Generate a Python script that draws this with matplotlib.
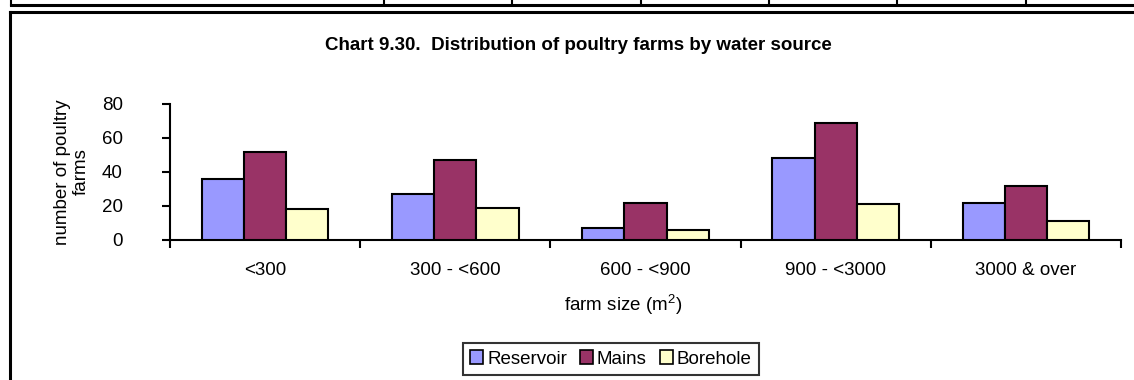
import matplotlib
matplotlib.use("Agg")
import matplotlib.pyplot as plt
from matplotlib.lines import Line2D
import numpy as np


# Farm size groups along the x axis.
categories = ["<300", "300 - <600", "600 - <900", "900 - <3000", "3000 & over"]

# Number of poultry farms for each water source.
reservoir = [36, 27, 7, 48, 22]
mains = [52, 47, 22, 69, 32]
borehole = [18, 19, 6, 21, 11]

# Series names and fill colours.
series_names = ["Reservoir", "Mains", "Borehole"]
series_colors = ["#9999FF", "#993366", "#FFFFCC"]

# Arial-like font everywhere.
plt.rcParams['font.family'] = ['Liberation Sans', 'DejaVu Sans']
plt.rcParams['mathtext.default'] = 'regular'

# Creates the figure and the plot area.
fig = plt.figure(figsize=(11.34, 3.80), dpi=100)
W, H = 1134, 380
ax = fig.add_axes([170 / W, 1 - 240 / H, (1121 - 170) / W, (240 - 104) / H])

# Draws the three bars of every group.
bar_w = 0.222
centers = np.arange(len(categories)) + 0.5
for k, values in enumerate([reservoir, mains, borehole]):
    ax.bar(centers + (k - 1) * bar_w, values, width=bar_w,
           color=series_colors[k], edgecolor="black", linewidth=1.5,
           label=series_names[k], zorder=3)

# Y axis: 0 to 80 in steps of 20, ticks pointing outwards.
ax.set_ylim(0, 80)
ax.set_yticks([0, 20, 40, 60, 80])
ax.tick_params(axis="y", direction="out", length=6, width=1.5, pad=28, labelsize=13.5)

# X axis: ticks at the group edges, labels in the middle of each group.
ax.set_xlim(0, len(categories))
ax.set_xticks(np.arange(len(categories) + 1))
ax.set_xticklabels([])
ax.set_xticks(centers, minor=True)
ax.set_xticklabels(categories, minor=True)
ax.tick_params(axis="x", which="major", direction="out", length=6, width=1.5)
ax.tick_params(axis="x", which="minor", length=0, pad=16, labelsize=13.5)

# Only the left and bottom axis lines.
for side in ["top", "right"]:
    ax.spines[side].set_visible(False)
for side in ["left", "bottom"]:
    ax.spines[side].set_linewidth(1.5)
ax.set_facecolor("none")

# Axis titles.
fig.text(72 / W, 1 - 172 / H, "number of poultry\nfarms", rotation=90,
         ha="center", va="center", fontsize=13.5, linespacing=1.1)
fig.text(623 / W, 1 - 305 / H, "farm size (m$^{2}$)", ha="center", va="center",
         fontsize=13.5)

# Chart title.
fig.text(578 / W, 1 - 45 / H, "Chart 9.30.  Distribution of poultry farms by water source",
         ha="center", va="center", fontsize=13.5, fontweight="bold")

# Legend box under the chart.
leg = fig.legend(loc="center", bbox_to_anchor=(611 / W, 1 - 359 / H), ncol=3,
                 fontsize=13.5, frameon=True, fancybox=False, edgecolor="black",
                 handlelength=0.7, handleheight=0.7, handletextpad=0.2,
                 columnspacing=0.7, borderpad=0.4, borderaxespad=0)
leg.get_frame().set_linewidth(1.5)
for patch in leg.get_patches():
    patch.set_edgecolor("black")
    patch.set_linewidth(1.2)

# Frame around the chart: left and top edges.
fig.add_artist(Line2D([10 / W, 10 / W], [0, 1 - 12 / H], color="black", linewidth=2.2,
                      transform=fig.transFigure))
fig.add_artist(Line2D([10 / W, 1], [1 - 12 / H, 1 - 12 / H], color="black", linewidth=2.2,
                      transform=fig.transFigure))

# Bottom edge of the table above the chart.
fig.add_artist(Line2D([11 / W, 1], [1 - 4.5 / H, 1 - 4.5 / H], color="black", linewidth=2.2,
                      transform=fig.transFigure))
for x in [11, 384, 512, 641, 769, 897, 1026]:
    fig.add_artist(Line2D([x / W, x / W], [1 - 4.5 / H, 1], color="black", linewidth=1.5,
                          transform=fig.transFigure))

# Saves the chart.
fig.savefig("out.png", dpi=100)
